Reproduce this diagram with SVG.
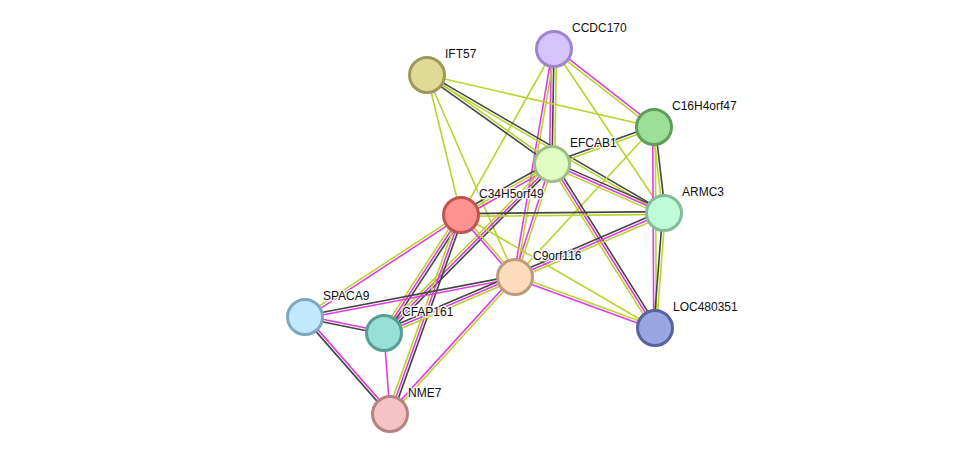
<svg xmlns="http://www.w3.org/2000/svg" width="976" height="460" viewBox="0 0 976 460">
<style>
.m{stroke:#e03ce0;stroke-width:1.6;fill:none}
.k{stroke:#454545;stroke-width:1.6;fill:none}
.y{stroke:#bcd22e;stroke-width:1.6;fill:none}
.n circle{stroke-width:3}
.n text{font-family:"Liberation Sans",Arial,sans-serif;font-size:12px;fill:#111;stroke:#fff;stroke-width:3;stroke-opacity:0.85;paint-order:stroke;stroke-linejoin:round}
</style>
<rect width="976" height="460" fill="#fff"/>
<g id="edges">
<!-- CCDC170-EFCAB1 -->
<line class="m" x1="554" y1="49" x2="552" y2="164" transform="translate(-2.6,0)"/>
<line class="k" x1="554" y1="49" x2="552" y2="164"/>
<line class="y" x1="554" y1="49" x2="552" y2="164" transform="translate(2.6,0)"/>
<!-- CCDC170-C16 -->
<line class="m" x1="554" y1="49" x2="654" y2="127" transform="translate(0.8,-1.03)"/>
<line class="y" x1="554" y1="49" x2="654" y2="127" transform="translate(-0.8,1.03)"/>
<!-- CCDC170-C34 -->
<line class="y" x1="554" y1="49" x2="461" y2="215"/>
<!-- CCDC170-ARMC3 -->
<line class="y" x1="554" y1="49" x2="664" y2="213"/>
<!-- CCDC170-C9orf116 -->
<line class="m" x1="554" y1="49" x2="515" y2="277" transform="translate(-1.28,-0.22)"/>
<line class="y" x1="554" y1="49" x2="515" y2="277" transform="translate(1.28,0.22)"/>
<!-- IFT57-EFCAB1 -->
<line class="y" x1="427" y1="75" x2="552" y2="164" transform="translate(0.75,-1.06)"/>
<line class="k" x1="427" y1="75" x2="552" y2="164" transform="translate(-0.75,1.06)"/>
<!-- IFT57-ARMC3 -->
<line class="k" x1="427" y1="75" x2="664" y2="213" transform="translate(0.65,-1.12)"/>
<line class="y" x1="427" y1="75" x2="664" y2="213" transform="translate(-0.65,1.12)"/>
<!-- IFT57-C16 -->
<line class="y" x1="427" y1="75" x2="654" y2="127"/>
<!-- IFT57-C34 -->
<line class="y" x1="427" y1="75" x2="461" y2="215"/>
<!-- IFT57-C9orf116 -->
<line class="y" x1="427" y1="75" x2="515" y2="277"/>
<!-- C16-EFCAB1 -->
<line class="k" x1="654" y1="127" x2="552" y2="164" transform="translate(-0.44,-1.22)"/>
<line class="y" x1="654" y1="127" x2="552" y2="164" transform="translate(0.44,1.22)"/>
<!-- C16-ARMC3 -->
<line class="y" x1="654" y1="127" x2="664" y2="213" transform="translate(-1.29,0.15)"/>
<line class="k" x1="654" y1="127" x2="664" y2="213" transform="translate(1.29,-0.15)"/>
<!-- C16-C9orf116 -->
<line class="y" x1="654" y1="127" x2="515" y2="277"/>
<!-- C16-LOC -->
<line class="m" x1="654" y1="127" x2="655" y2="328" transform="translate(-1.3,0)"/>
<line class="y" x1="654" y1="127" x2="655" y2="328" transform="translate(1.3,0)"/>
<!-- EFCAB1-ARMC3 -->
<line class="k" x1="552" y1="164" x2="664" y2="213" transform="translate(1.04,-2.38)"/>
<line class="m" x1="552" y1="164" x2="664" y2="213"/>
<line class="y" x1="552" y1="164" x2="664" y2="213" transform="translate(-1.04,2.38)"/>
<!-- EFCAB1-C34 -->
<line class="k" x1="552" y1="164" x2="461" y2="215" transform="translate(-1.27,-2.27)"/>
<line class="y" x1="552" y1="164" x2="461" y2="215"/>
<line class="m" x1="552" y1="164" x2="461" y2="215" transform="translate(1.27,2.27)"/>
<!-- EFCAB1-C9orf116 -->
<line class="m" x1="552" y1="164" x2="515" y2="277" transform="translate(-1.24,-0.4)"/>
<line class="y" x1="552" y1="164" x2="515" y2="277" transform="translate(1.24,0.4)"/>
<!-- EFCAB1-LOC -->
<line class="k" x1="552" y1="164" x2="655" y2="328" transform="translate(2.2,-1.38)"/>
<line class="m" x1="552" y1="164" x2="655" y2="328"/>
<line class="y" x1="552" y1="164" x2="655" y2="328" transform="translate(-2.2,1.38)"/>
<!-- EFCAB1-CFAP161 -->
<line class="y" x1="552" y1="164" x2="384" y2="333" transform="translate(-1.84,-1.83)"/>
<line class="m" x1="552" y1="164" x2="384" y2="333"/>
<line class="k" x1="552" y1="164" x2="384" y2="333" transform="translate(1.84,1.83)"/>
<!-- C34-ARMC3 -->
<line class="k" x1="461" y1="215" x2="664" y2="213" transform="translate(0,-1.4)"/>
<line class="y" x1="461" y1="215" x2="664" y2="213" transform="translate(0,1.4)"/>
<!-- C34-C9orf116 -->
<line class="m" x1="461" y1="215" x2="515" y2="277" transform="translate(-0.98,0.85)"/>
<line class="y" x1="461" y1="215" x2="515" y2="277" transform="translate(0.98,-0.85)"/>
<!-- C34-SPACA9 -->
<line class="y" x1="461" y1="215" x2="305" y2="317" transform="translate(-0.71,-1.09)"/>
<line class="m" x1="461" y1="215" x2="305" y2="317" transform="translate(0.71,1.09)"/>
<!-- C34-CFAP161 -->
<line class="y" x1="461" y1="215" x2="384" y2="333" transform="translate(-2.18,-1.42)"/>
<line class="m" x1="461" y1="215" x2="384" y2="333"/>
<line class="k" x1="461" y1="215" x2="384" y2="333" transform="translate(2.18,1.42)"/>
<!-- C34-NME7 -->
<line class="y" x1="461" y1="215" x2="390" y2="414" transform="translate(-2.45,-0.87)"/>
<line class="m" x1="461" y1="215" x2="390" y2="414"/>
<line class="k" x1="461" y1="215" x2="390" y2="414" transform="translate(2.45,0.87)"/>
<!-- C34-LOC -->
<line class="y" x1="461" y1="215" x2="655" y2="328"/>
<!-- ARMC3-C9orf116 -->
<line class="k" x1="664" y1="213" x2="515" y2="277" transform="translate(-1.03,-2.39)"/>
<line class="m" x1="664" y1="213" x2="515" y2="277"/>
<line class="y" x1="664" y1="213" x2="515" y2="277" transform="translate(1.03,2.39)"/>
<!-- ARMC3-LOC -->
<line class="k" x1="664" y1="213" x2="655" y2="328" transform="translate(-1.3,-0.1)"/>
<line class="y" x1="664" y1="213" x2="655" y2="328" transform="translate(1.3,0.1)"/>
<!-- C9orf116-SPACA9 -->
<line class="k" x1="515" y1="277" x2="305" y2="317" transform="translate(-0.24,-1.28)"/>
<line class="m" x1="515" y1="277" x2="305" y2="317" transform="translate(0.24,1.28)"/>
<!-- C9orf116-CFAP161 -->
<line class="k" x1="515" y1="277" x2="384" y2="333" transform="translate(-1.02,-2.39)"/>
<line class="m" x1="515" y1="277" x2="384" y2="333"/>
<line class="y" x1="515" y1="277" x2="384" y2="333" transform="translate(1.02,2.39)"/>
<!-- C9orf116-LOC -->
<line class="y" x1="515" y1="277" x2="655" y2="328" transform="translate(0.44,-1.22)"/>
<line class="m" x1="515" y1="277" x2="655" y2="328" transform="translate(-0.44,1.22)"/>
<!-- C9orf116-NME7 -->
<line class="m" x1="515" y1="277" x2="390" y2="414" transform="translate(-0.96,-0.88)"/>
<line class="y" x1="515" y1="277" x2="390" y2="414" transform="translate(0.96,0.88)"/>
<!-- SPACA9-CFAP161 -->
<line class="m" x1="305" y1="317" x2="384" y2="333" transform="translate(0.26,-1.27)"/>
<line class="k" x1="305" y1="317" x2="384" y2="333" transform="translate(-0.26,1.27)"/>
<!-- SPACA9-NME7 -->
<line class="k" x1="305" y1="317" x2="390" y2="414" transform="translate(-0.98,0.86)"/>
<line class="m" x1="305" y1="317" x2="390" y2="414" transform="translate(0.98,-0.86)"/>
<!-- CFAP161-NME7 -->
<line class="m" x1="384" y1="333" x2="390" y2="414"/>
</g>
<g id="CCDC170" class="n"><circle cx="554" cy="49" r="17.5" fill="#d5c3fb" stroke="#9d86cf"/><text x="572" y="32">CCDC170</text></g>
<g id="IFT57" class="n"><circle cx="427" cy="75" r="17.5" fill="#dfdb96" stroke="#9d9a5a"/><text x="445" y="58">IFT57</text></g>
<g id="C16H4orf47" class="n"><circle cx="654" cy="127" r="17.5" fill="#9edf98" stroke="#5e9e58"/><text x="672" y="110">C16H4orf47</text></g>
<g id="EFCAB1" class="n"><circle cx="552" cy="164" r="17.5" fill="#e0fdc4" stroke="#a0bd86"/><text x="570" y="147">EFCAB1</text></g>
<g id="C34H5orf49" class="n"><circle cx="461" cy="215" r="17.5" fill="#fe9291" stroke="#be5553"/><text x="479" y="198">C34H5orf49</text></g>
<g id="ARMC3" class="n"><circle cx="664" cy="213" r="17.5" fill="#c0fcd8" stroke="#80bd98"/><text x="682" y="196">ARMC3</text></g>
<g id="C9orf116" class="n"><circle cx="515" cy="277" r="17.5" fill="#fddcbd" stroke="#bd9c7e"/><text x="533" y="260">C9orf116</text></g>
<g id="SPACA9" class="n"><circle cx="305" cy="317" r="17.5" fill="#c2e8fd" stroke="#7fa8c0"/><text x="323" y="300">SPACA9</text></g>
<g id="CFAP161" class="n"><circle cx="384" cy="333" r="17.5" fill="#98dfd5" stroke="#559f94"/><text x="402" y="316">CFAP161</text></g>
<g id="LOC480351" class="n"><circle cx="655" cy="328" r="17.5" fill="#9aa6e0" stroke="#5862a0"/><text x="673" y="311">LOC480351</text></g>
<g id="NME7" class="n"><circle cx="390" cy="414" r="17.5" fill="#f6c3c4" stroke="#b68385"/><text x="408" y="397">NME7</text></g>
</svg>
